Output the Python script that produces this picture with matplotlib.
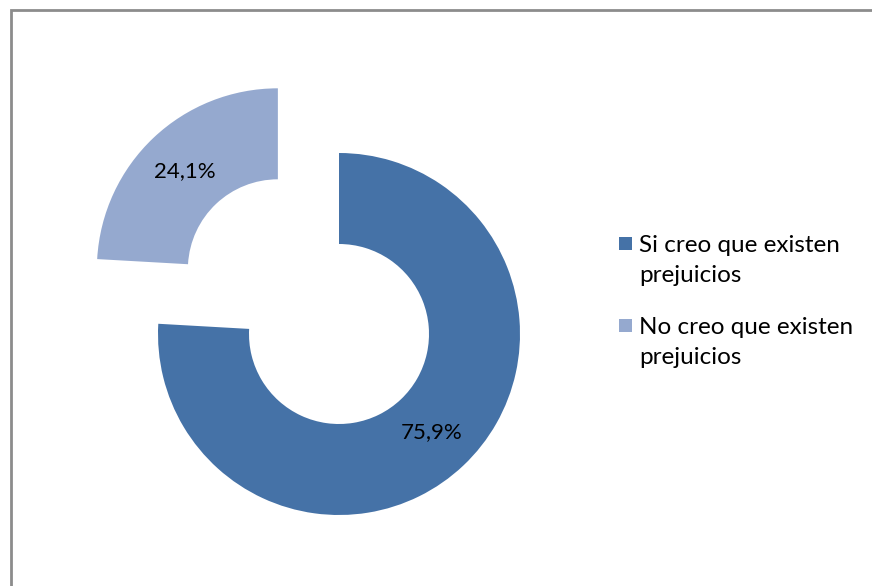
import matplotlib
matplotlib.use("Agg")
import matplotlib.pyplot as plt
from matplotlib.patches import Rectangle
import numpy as np

categories = ["Si creo que existen\nprejuicios", "No creo que existen\nprejuicios"]
values = [75.9, 24.1]
colors = ["#4572A7", "#95A9CF"]

W, H = 872, 586
fig = plt.figure(figsize=(W / 100, H / 100), dpi=100)
fig.patch.set_facecolor("white")

ax = fig.add_axes([0, 0, 1, 1])

# chart frame (open to the right and bottom)
ax.add_patch(Rectangle((11, -20), W + 40, H - 10 + 20, fill=False,
                       edgecolor="#8c8c8c", linewidth=2))

R = 181
RING = 91
wedges, texts = ax.pie(
    values,
    colors=colors,
    startangle=90,
    counterclock=False,
    radius=R,
    center=(339, H - 334),
    explode=[0, 89],
    wedgeprops=dict(width=RING, linewidth=0),
    frame=True,
)[:2]
ax.axis("off")
ax.set_xlim(0, W)
ax.set_ylim(0, H)
ax.set_aspect("equal")

# percentage labels at the ring middle
for w, v in zip(wedges, values):
    mid = np.deg2rad((w.theta1 + w.theta2) / 2)
    cx, cy = w.center
    r = R - RING / 2
    ax.text(cx + r * np.cos(mid), cy + r * np.sin(mid),
            f"{v:.1f}%".replace(".", ","), ha="center", va="center",
            fontsize=16, family="Lato", color="black")

# legend: square key beside a two-line label
for i, (cat, col) in enumerate(zip(categories, colors)):
    top = 237 + i * 82
    ax.add_patch(Rectangle((619, H - top - 13), 13, 13, facecolor=col,
                           edgecolor="none"))
    ax.text(639, H - top + 2, cat, ha="left", va="top", fontsize=17.5,
            family="Lato", color="black", linespacing=1.5)

fig.savefig("out.png", dpi=100, facecolor="white")
